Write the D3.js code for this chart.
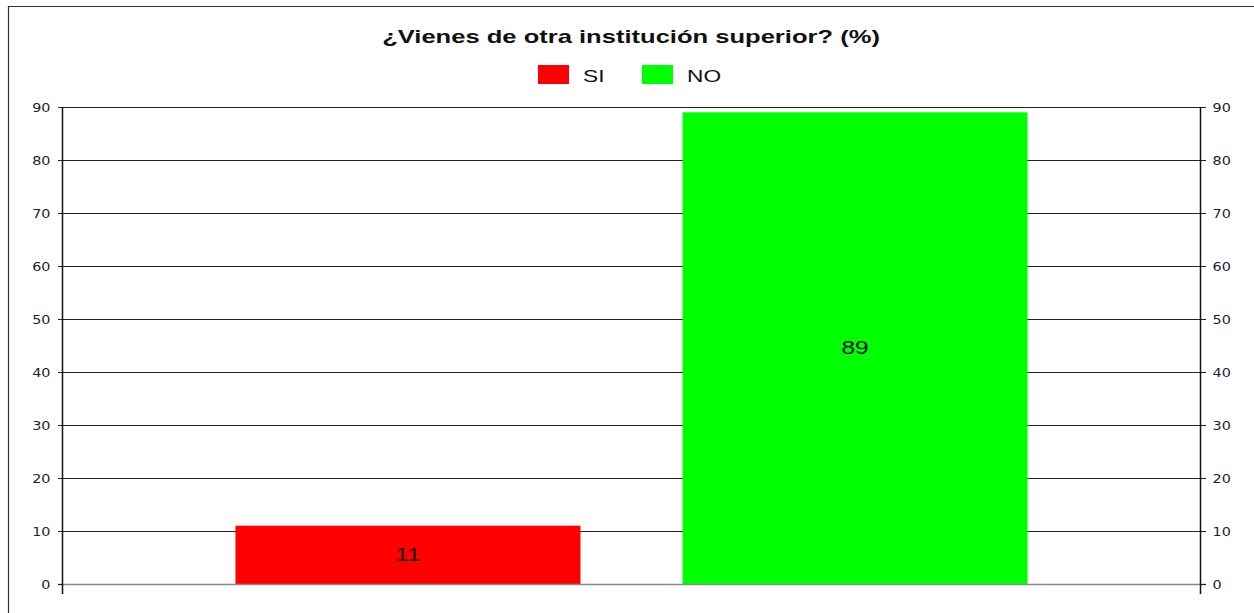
<!DOCTYPE html>
<html><head><meta charset="utf-8">
<script src="https://cdn.jsdelivr.net/npm/d3@7"></script>
<style>body{margin:0;background:#fff;}svg{display:block;}</style>
</head><body>
<svg id="c" width="1254" height="613"></svg>
<script>
const title = "¿Vienes de otra institución superior? (%)";
const categories = [""];
const seriesNames = ["SI", "NO"];
const seriesColors = ["#ff0000", "#00ff00"];
const siValues = [11];
const noValues = [89];
const yTicks = [0, 10, 20, 30, 40, 50, 60, 70, 80, 90];

const svg = d3.select("#c");
const W = 1254, H = 613;
const m = {left: 63, right: 54, top: 107, bottom: 29};
const x0 = d3.scaleBand().domain(categories).range([m.left, W - m.right]).paddingInner(0.1788).paddingOuter(0.1788);
const x1 = d3.scaleBand().domain(seriesNames).range([0, x0.bandwidth()]).paddingInner(0.2282).paddingOuter(0);
const y = d3.scaleLinear().domain([0, 90]).range([H - m.bottom, m.top]);
const SANS = "Liberation Sans, Arial, sans-serif";

// frame
svg.append("path").attr("d", `M8.5,${H} V6.5 H${W}`).attr("fill", "none").attr("stroke", "#333").attr("stroke-width", 1.2);

// gridlines
svg.append("g").selectAll("line").data(yTicks.filter(d => d > 0)).join("line")
  .attr("x1", m.left - 5).attr("x2", W - m.right)
  .attr("y1", d => Math.round(y(d)) + 0.5).attr("y2", d => Math.round(y(d)) + 0.5)
  .attr("stroke", "#222").attr("stroke-width", 1);

// bars
const data = categories.map((c, i) => ({cat: c, vals: [siValues[i], noValues[i]]}));
const g = svg.append("g").selectAll("g").data(data).join("g").attr("transform", d => `translate(${x0(d.cat)},0)`);
g.selectAll("rect").data(d => d.vals.map((v, j) => ({s: seriesNames[j], v, c: seriesColors[j]}))).join("rect")
  .attr("x", d => x1(d.s)).attr("width", x1.bandwidth())
  .attr("y", d => y(d.v)).attr("height", d => y(0) - y(d.v)).attr("fill", d => d.c);
g.selectAll("text").data(d => d.vals.map((v, j) => ({s: seriesNames[j], v}))).join("text")
  .attr("transform", d => `translate(${x1(d.s) + x1.bandwidth() / 2},${(y(d.v) + y(0)) / 2}) scale(1.4,1)`)
  .attr("text-anchor", "middle").attr("dominant-baseline", "central")
  .attr("font-family", SANS).attr("font-size", 17.5).attr("fill", "#111")
  .text(d => d.v);

// zero line
svg.append("line").attr("x1", m.left - 5).attr("x2", W - m.right + 6)
  .attr("y1", y(0) + 0.5).attr("y2", y(0) + 0.5).attr("stroke", "#888").attr("stroke-width", 1.5);

// axes
const axL = svg.append("g").attr("transform", `translate(${m.left},0)`)
  .call(d3.axisLeft(y).tickValues(yTicks).tickSize(5));
const axR = svg.append("g").attr("transform", `translate(${W - m.right},0)`)
  .call(d3.axisRight(y).tickValues(yTicks).tickSize(6));
[[axL, -12.5], [axR, 12.5]].forEach(([a, off]) => {
  a.select(".domain").remove();
  a.selectAll(".tick line").attr("stroke", "#222");
  a.selectAll("text").attr("x", null).attr("dy", "0.35em")
    .attr("transform", `translate(${off},0) scale(1.25,1)`)
    .attr("font-family", "DejaVu Sans, Verdana, sans-serif").attr("font-size", 11.5).attr("fill", "#1a2233");
});
svg.append("line").attr("x1", m.left - 0.5).attr("x2", m.left - 0.5).attr("y1", m.top).attr("y2", y(0) + 10).attr("stroke", "#111").attr("stroke-width", 1.5);
svg.append("line").attr("x1", W - m.right + 0.5).attr("x2", W - m.right + 0.5).attr("y1", m.top).attr("y2", y(0) + 10).attr("stroke", "#111").attr("stroke-width", 1.5);

// title
svg.append("text").attr("transform", "translate(631,43) scale(1.42,1)").attr("text-anchor", "middle")
  .attr("font-family", SANS).attr("font-weight", "bold").attr("font-size", 18).attr("fill", "#111")
  .text(title);

// legend
const legX = [538, 642];
const lg = svg.append("g").selectAll("g").data(seriesNames).join("g").attr("transform", (d, i) => `translate(${legX[i]},65)`);
lg.append("rect").attr("width", 31).attr("height", 19).attr("fill", (d, i) => seriesColors[i]);
lg.append("text").attr("transform", "translate(45,11) scale(1.42,1)").attr("dominant-baseline", "central")
  .attr("font-family", SANS).attr("font-size", 16).attr("fill", "#111").text(d => d);
</script>
</body></html>
